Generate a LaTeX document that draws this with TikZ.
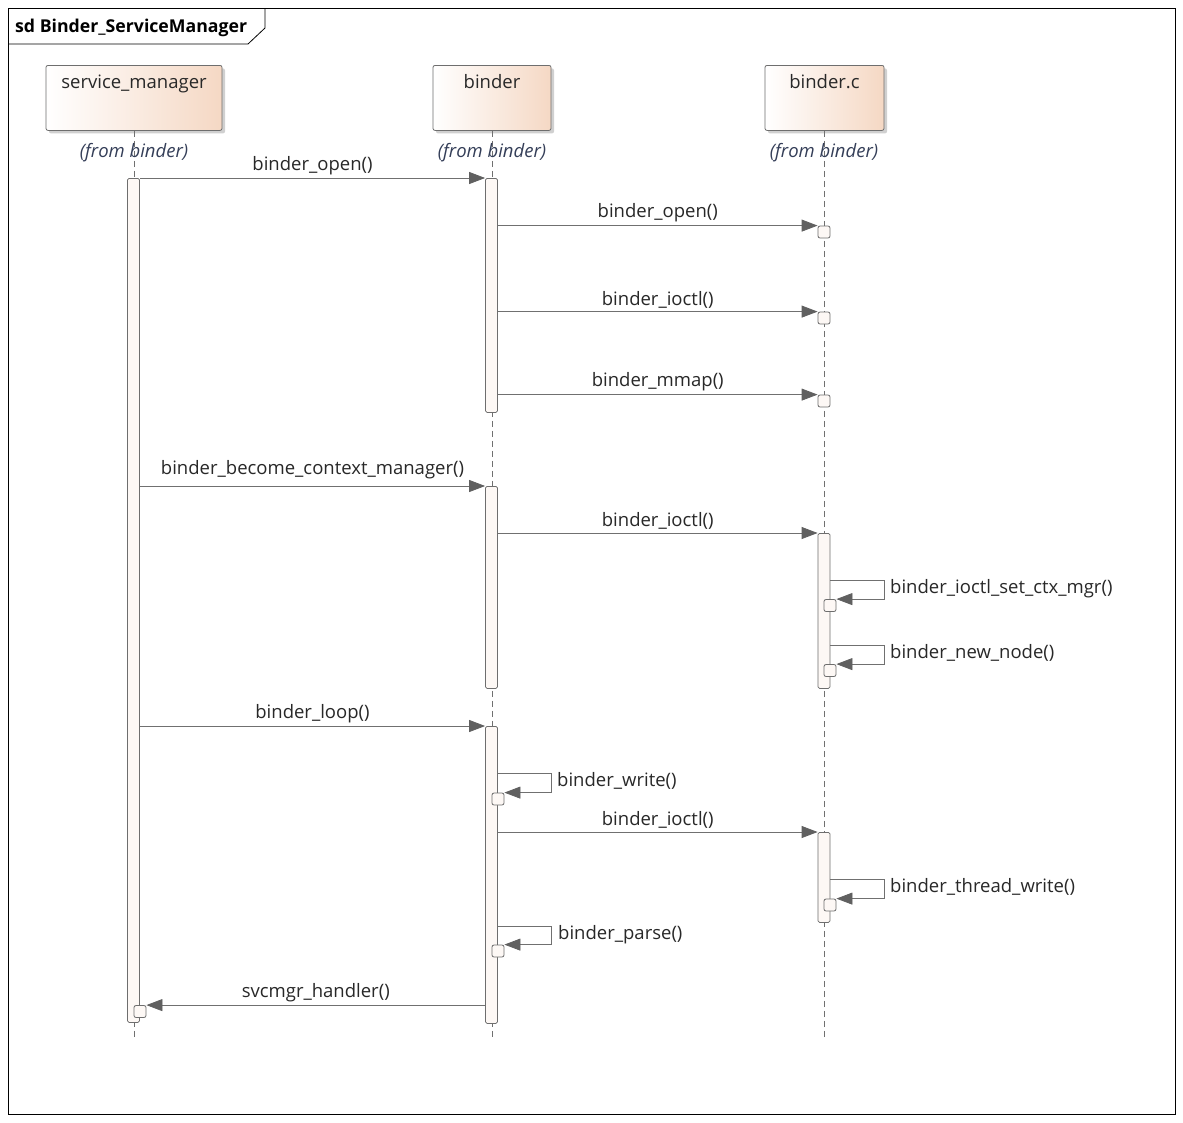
\documentclass[tikz,border=0pt]{standalone}
\usepackage{fontspec}
\setmainfont{Open Sans}
\usetikzlibrary{arrows.meta,shadows}

\definecolor{linegray}{RGB}{112,112,112}
\definecolor{tipgray}{RGB}{96,96,96}
\definecolor{boxedge}{RGB}{110,110,110}
\definecolor{peach}{RGB}{245,216,196}
\definecolor{actfill}{RGB}{253,248,245}
\definecolor{fromtext}{RGB}{52,62,88}
\definecolor{labeltext}{RGB}{40,40,40}

\tikzset{
  headbox/.style={draw=boxedge, line width=0.8pt, rounded corners=2pt,
    left color=white, right color=peach, minimum height=65, inner sep=0,
    anchor=north, drop shadow={shadow xshift=3pt, shadow yshift=-3pt, fill=black!30, opacity=0.6}},
  headname/.style={font=\fontsize{18.5}{22}\selectfont, text=labeltext, anchor=base},
  fromname/.style={font=\fontsize{18.5}{22}\selectfont\itshape, text=fromtext, anchor=base},
  lifeline/.style={draw=linegray, line width=0.8pt, dash pattern=on 6pt off 4pt},
  act/.style={draw=boxedge, line width=0.8pt, fill=actfill, rounded corners=1.5pt,
    minimum width=12, inner sep=0, anchor=north},
  sq/.style={draw=boxedge, line width=0.8pt, fill=actfill, rounded corners=2pt,
    minimum width=12, minimum height=12, inner sep=0},
  msg/.style={draw=linegray, line width=0.8pt,
    -{Triangle[length=16pt, width=12pt, fill=tipgray, color=tipgray]}},
  lbl/.style={font=\fontsize{18.5}{22}\selectfont, text=labeltext, inner sep=0},
}

\begin{document}
\begin{tikzpicture}[x=1pt, y=-1pt]
\useasboundingbox (0,0) rectangle (1183,1122);
\fill[white] (0,0) rectangle (1183,1122);

% frame with its name tab
\draw[black, line width=0.8pt] (8,8) rectangle (1175,1114);
\draw[black, line width=0.8pt] (8,44) -- (248,44) -- (265,28) -- (265,8);
\node[font=\fontsize{17.7}{21}\selectfont\bfseries, anchor=base west, inner sep=0] (title) at (15,32) {sd Binder\_ServiceManager};

% lifeline heads
\node[headbox, minimum width=176] (smbox) at (134,65) {};
\node[headbox, minimum width=118] (bbox) at (492,65) {};
\node[headbox, minimum width=119] (cbox) at (824.5,65) {};

% lifelines
\coordinate (smend) at (134,1040);
\coordinate (bend) at (492,1040);
\coordinate (cend) at (824,1040);
\draw[lifeline] (smbox.south) -- (smend);
\draw[lifeline] (bbox.south) -- (bend);
\draw[lifeline] (cbox.south -| cend) -- (cend);

\node[headname] (smname) at (134,88) {service\_manager};
\node[headname] (bname) at (492,88) {binder};
\node[headname] (cname) at (824.5,88) {binder.c};
\node[fromname] (smfrom) at (134,157) {(from binder)};
\node[fromname] (bfrom) at (492,157) {(from binder)};
\node[fromname] (cfrom) at (824,157) {(from binder)};

% activations
\node[act, minimum height=844] (sm1) at (133.5,178) {};
\node[act, minimum height=234] (b1) at (491.5,178) {};
\node[act, minimum height=202] (b2) at (491.5,486) {};
\node[act, minimum height=297] (b3) at (491.5,726) {};
\node[act, minimum height=155] (c4) at (824,533) {};
\node[act, minimum height=90] (c5) at (824,832) {};

% short executions on binder.c
\node[sq] (c1) at (824,232) {};
\node[sq] (c2) at (824,318) {};
\node[sq] (c3) at (824,401) {};

% self-call executions
\node[sq] (sqctx) at (830,605.5) {};
\node[sq] (sqnode) at (830,670.5) {};
\node[sq] (sqwrite) at (498,799) {};
\node[sq] (sqthread) at (830,905) {};
\node[sq] (sqparse) at (498,951) {};
\node[sq] (sqhandler) at (140,1011.5) {};

% calls
\draw[msg] (sm1.east |- b1.north) -- node[lbl, above=3pt] (m1) {binder\_open()} (b1.north west);
\draw[msg] (b1.east |- c1.north) -- node[lbl, above=3pt] (m2) {binder\_open()} (c1.north west);
\draw[msg] (b1.east |- c2.north) -- node[lbl, above=3pt] (m3) {binder\_ioctl()} (c2.north west);
\draw[msg] (b1.east |- c3.north) -- node[lbl, above=3pt] (m4) {binder\_mmap()} (c3.north west);
\draw[msg] (sm1.east |- b2.north) -- node[lbl, above=7pt] (m5) {binder\_become\_context\_manager()} (b2.north west);
\draw[msg] (b2.east |- c4.north) -- node[lbl, above=3pt] (m6) {binder\_ioctl()} (c4.north west);
\draw[msg] (sm1.east |- b3.north) -- node[lbl, above=3pt] (m9) {binder\_loop()} (b3.north west);
\draw[msg] (b3.east |- c5.north) -- node[lbl, above=3pt] (m11) {binder\_ioctl()} (c5.north west);
\draw[msg] (b3.west |- sqhandler.north) -- node[lbl, above=3pt] (m14) {svcmgr\_handler()} (sqhandler.north east);

% self calls
\coordinate (ctx0) at (830,580);
\coordinate (node0) at (830,645);
\coordinate (write0) at (497.5,773);
\coordinate (thread0) at (830,879);
\coordinate (parse0) at (497.5,926);
\draw[msg] (ctx0) -- ++(54,0) coordinate (ctx1) |- (sqctx.north east);
\draw[msg] (node0) -- ++(54,0) coordinate (node1) |- (sqnode.north east);
\draw[msg] (write0) -- ++(53.5,0) coordinate (write1) |- (sqwrite.north east);
\draw[msg] (thread0) -- ++(54,0) coordinate (thread1) |- (sqthread.north east);
\draw[msg] (parse0) -- ++(53.5,0) coordinate (parse1) |- (sqparse.north east);
\node[lbl, anchor=base west] (m7) at (890,593) {binder\_ioctl\_set\_ctx\_mgr()};
\node[lbl, anchor=base west] (m8) at (890,658) {binder\_new\_node()};
\node[lbl, anchor=base west] (m10) at (557,786) {binder\_write()};
\node[lbl, anchor=base west] (m12) at (890,892) {binder\_thread\_write()};
\node[lbl, anchor=base west] (m13) at (558,939) {binder\_parse()};
\end{tikzpicture}
\end{document}
